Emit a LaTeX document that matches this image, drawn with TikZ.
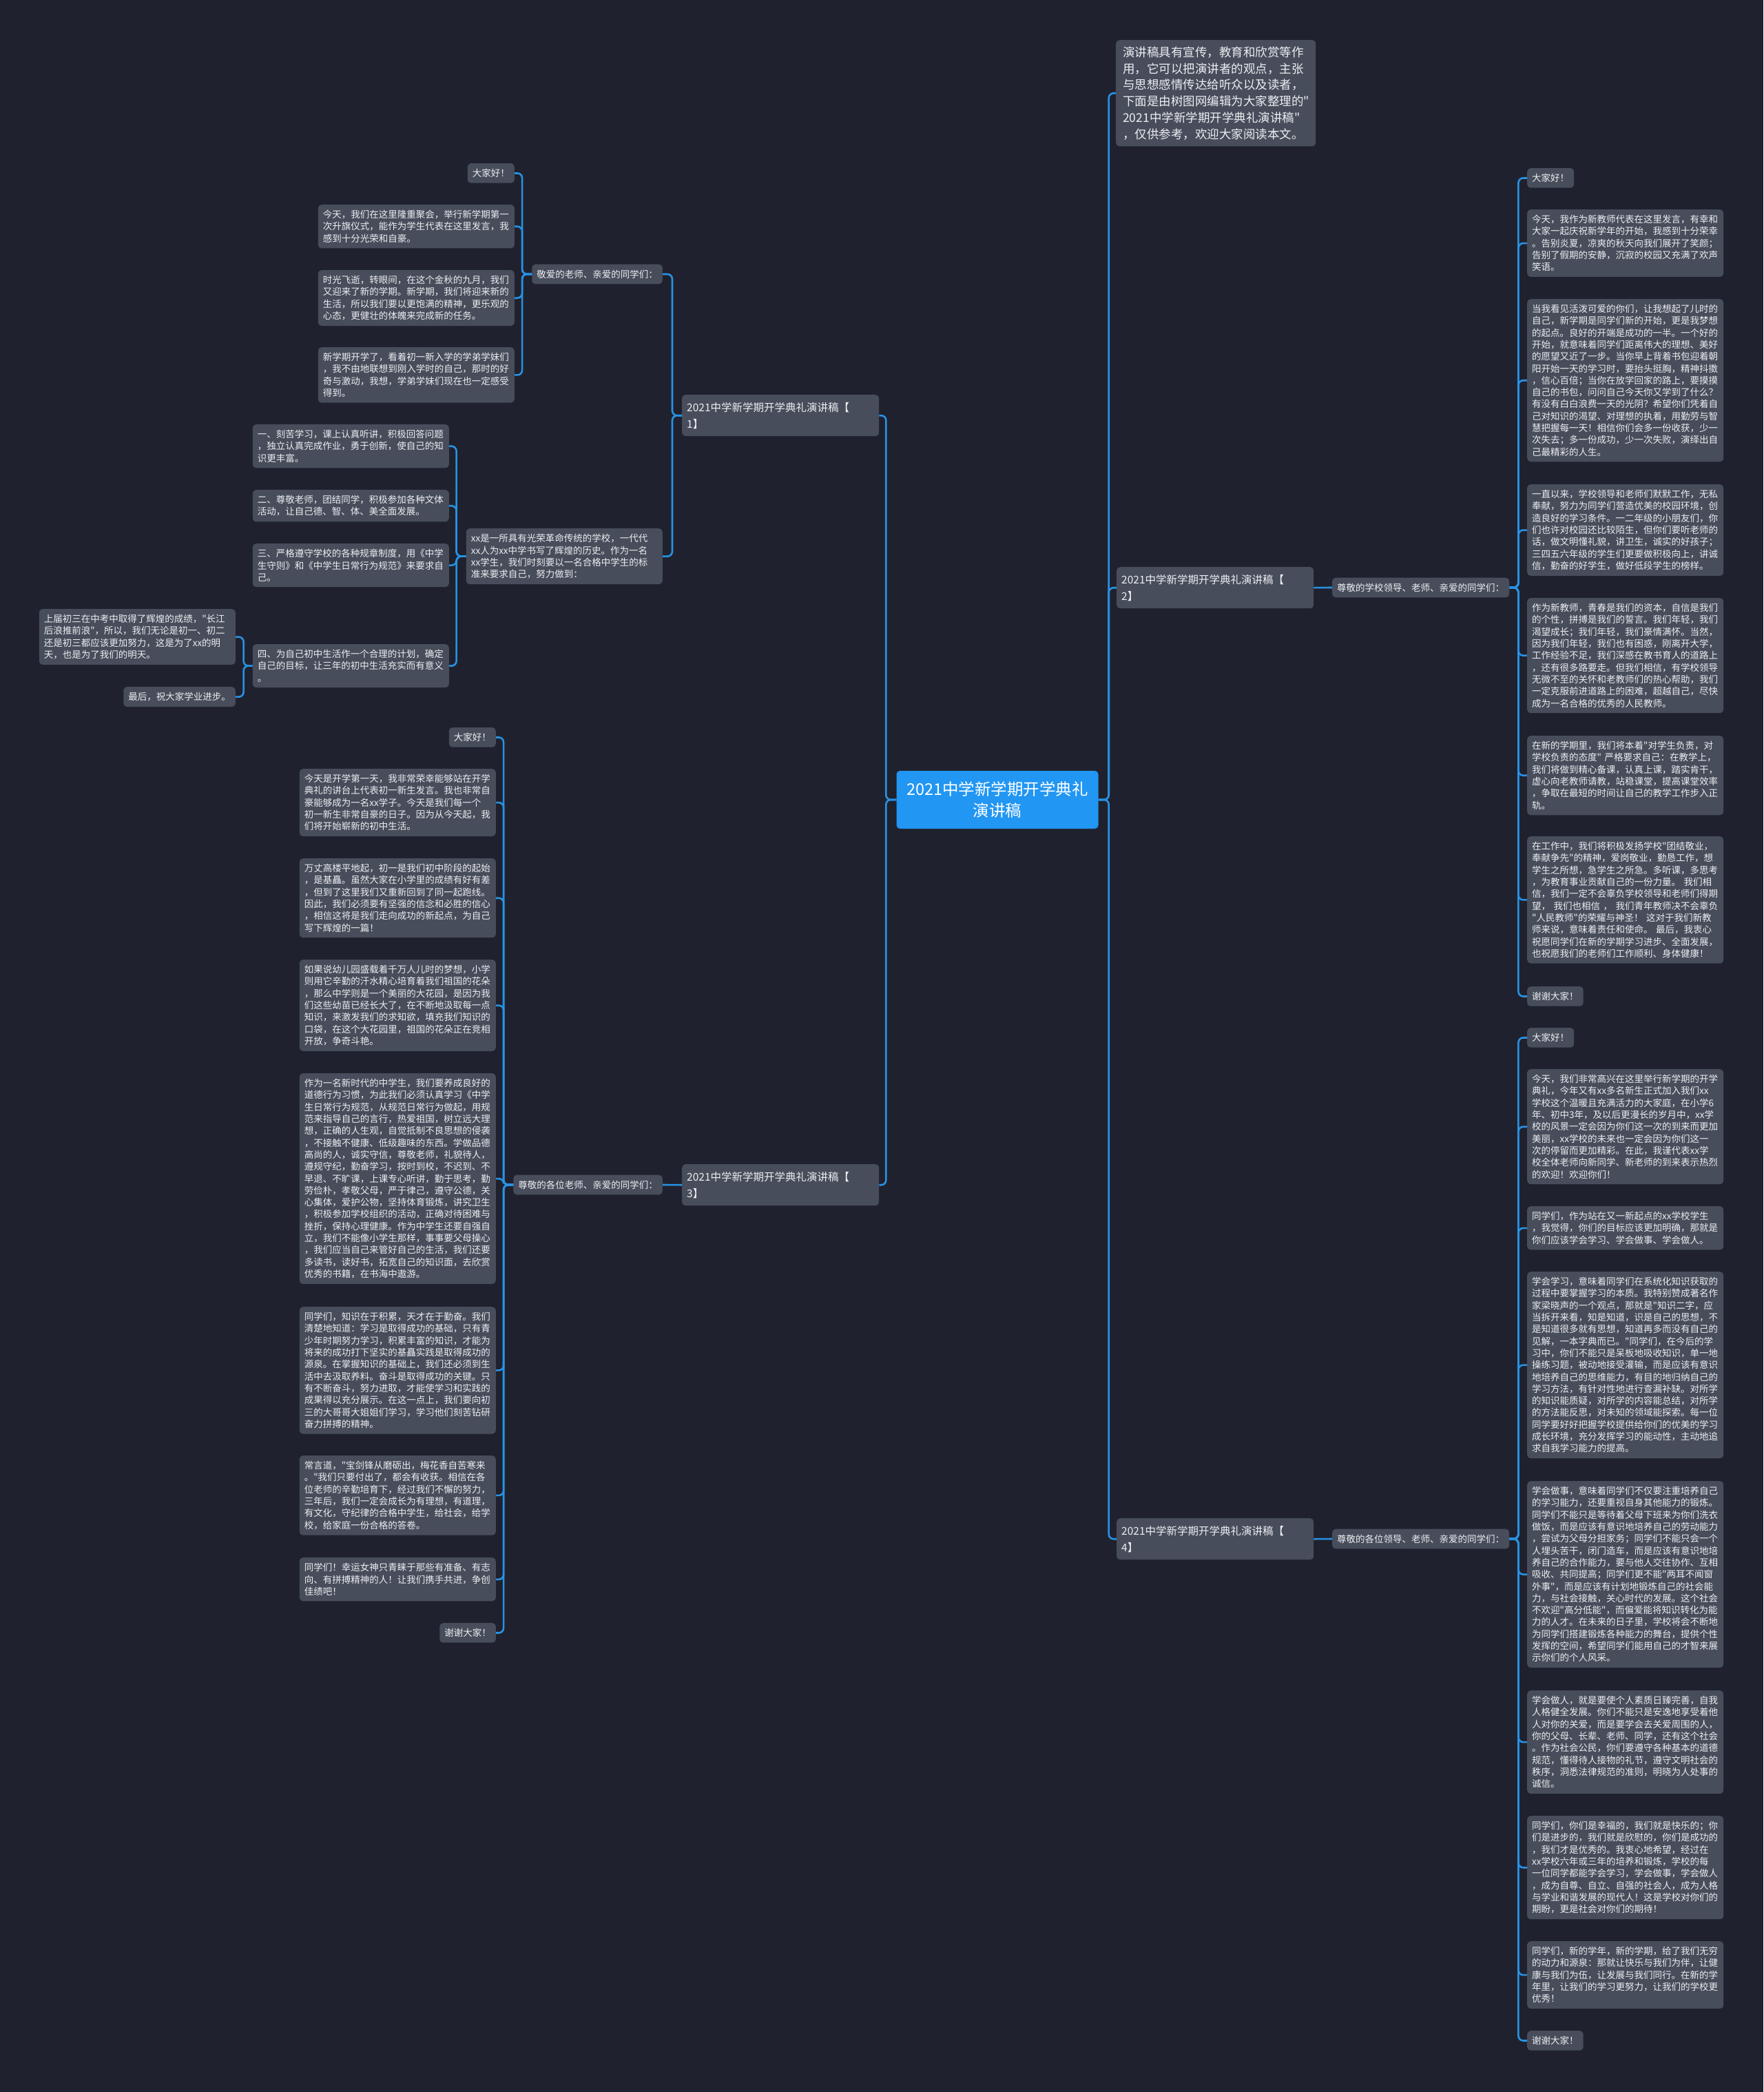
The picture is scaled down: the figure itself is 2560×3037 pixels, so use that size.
\documentclass[tikz,border=0pt]{standalone}
\usepackage{fontspec}
\setmainfont{Noto Sans CJK SC}[Ligatures=TeXOff]
\definecolor{fondoMapa}{RGB}{31,34,46}
\definecolor{nodoGris}{RGB}{72,77,91}
\definecolor{lineaAzul}{RGB}{40,146,228}
\definecolor{raizAzul}{RGB}{33,150,243}
\definecolor{textoClaro}{RGB}{236,238,242}

\begin{document}
\begin{tikzpicture}[x=1pt, y=-1pt,
    hoja/.style={fill=nodoGris, rounded corners=5pt, text=textoClaro, align=left,
      font=\fontsize{13.5}{17.3}\selectfont, inner xsep=7pt, inner ysep=8pt},
    hojaLarga/.style={hoja, text width=271pt},
    rama/.style={fill=nodoGris, rounded corners=5pt, text=textoClaro, align=left,
      font=\fontsize{15.5}{24}\selectfont, text width=272pt, inner xsep=7pt,
      minimum height=60pt, anchor=north west},
    raiz/.style={fill=raizAzul, rounded corners=5pt, text=white, align=center,
      font=\fontsize{23.5}{31}\selectfont, minimum width=293pt, minimum height=84pt},
    enlace/.style={draw=lineaAzul, line width=2.6pt, rounded corners=7pt}]

  % 1. FONDO
  \fill[fondoMapa] (0,0) rectangle (2560,3037);

  % 2. RAIZ, INTRODUCCION Y RAMAS
  \node[raiz] (raiz) at (1448,1161) {2021中学新学期开学典礼\\演讲稿};
  \node[hoja, anchor=north west, text width=270pt, inner xsep=10pt, inner ysep=9.5pt,
    font=\fontsize{17.5}{23.7}\selectfont] (intro) at (1620,58)
    {演讲稿具有宣传，教育和欣赏等作\\用，它可以把演讲者的观点，主张\\与思想感情传达给听众以及读者，\\下面是由树图网编辑为大家整理的"\\2021中学新学期开学典礼演讲稿"\\，仅供参考，欢迎大家阅读本文。};
  \node[rama] (r1) at (990,573) {2021中学新学期开学典礼演讲稿【\\1】};
  \node[rama] (r2) at (1621,823) {2021中学新学期开学典礼演讲稿【\\2】};
  \node[rama] (r3) at (990,1690) {2021中学新学期开学典礼演讲稿【\\3】};
  \node[rama] (r4) at (1621,2204) {2021中学新学期开学典礼演讲稿【\\4】};

  % 3. RAMA 1
  \node[hoja, anchor=east] (r1s) at (962,398) {敬爱的老师、亲爱的同学们：};
  \node[hoja, anchor=north east] (r1sa) at (747,237) {大家好！};
  \node[hojaLarga, anchor=north east] (r1sb) at (747,297)
    {今天，我们在这里隆重聚会，举行新学期第一\\次升旗仪式，能作为学生代表在这里发言，我\\感到十分光荣和自豪。};
  \node[hojaLarga, anchor=north east] (r1sc) at (747,392)
    {时光飞逝，转眼间，在这个金秋的九月，我们\\又迎来了新的学期。新学期，我们将迎来新的\\生活，所以我们要以更饱满的精神，更乐观的\\心态，更健壮的体魄来完成新的任务。};
  \node[hojaLarga, anchor=north east] (r1sd) at (747,504)
    {新学期开学了，看着初一新入学的学弟学妹们\\，我不由地联想到刚入学时的自己，那时的好\\奇与激动，我想，学弟学妹们现在也一定感受\\得到。};

  \node[hojaLarga, anchor=north east] (r1x) at (962,767)
    {xx是一所具有光荣革命传统的学校，一代代\\xx人为xx中学书写了辉煌的历史。作为一名\\xx学生，我们时刻要以一名合格中学生的标\\准来要求自己，努力做到：};
  \node[hojaLarga, anchor=north east] (r1xa) at (652,616)
    {一、刻苦学习，课上认真听讲，积极回答问题\\，独立认真完成作业，勇于创新，使自己的知\\识更丰富。};
  \node[hojaLarga, anchor=north east] (r1xb) at (652,711)
    {二、尊敬老师，团结同学，积极参加各种文体\\活动，让自己德、智、体、美全面发展。};
  \node[hojaLarga, anchor=north east] (r1xc) at (652,789)
    {三、严格遵守学校的各种规章制度，用《中学\\生守则》和《中学生日常行为规范》来要求自\\己。};
  \node[hojaLarga, anchor=north east] (r1xd) at (652,935)
    {四、为自己初中生活作一个合理的计划，确定\\自己的目标，让三年的初中生活充实而有意义\\。};
  \node[hojaLarga, anchor=north east] (r1xd1) at (342,884)
    {上届初三在中考中取得了辉煌的成绩，"长江\\后浪推前浪"，所以，我们无论是初一、初二\\还是初三都应该更加努力，这是为了xx的明\\天，也是为了我们的明天。};
  \node[hoja, anchor=north east] (r1xd2) at (342,997) {最后，祝大家学业进步。};

  % 4. RAMA 3
  \node[hoja, anchor=east] (r3s) at (962,1720) {尊敬的各位老师、亲爱的同学们：};
  \node[hoja, anchor=north east] (r3a) at (720,1056) {大家好！};
  \node[hojaLarga, anchor=north east] (r3b) at (720,1116)
    {今天是开学第一天，我非常荣幸能够站在开学\\典礼的讲台上代表初一新生发言。我也非常自\\豪能够成为一名xx学子。今天是我们每一个\\初一新生非常自豪的日子。因为从今天起，我\\们将开始崭新的初中生活。};
  \node[hojaLarga, anchor=north east] (r3c) at (720,1246)
    {万丈高楼平地起，初一是我们初中阶段的起始\\，是基矗。虽然大家在小学里的成绩有好有差\\，但到了这里我们又重新回到了同一起跑线。\\因此，我们必须要有坚强的信念和必胜的信心\\，相信这将是我们走向成功的新起点，为自己\\写下辉煌的一篇！};
  \node[hojaLarga, anchor=north east] (r3d) at (720,1393)
    {如果说幼儿园盛载着千万人儿时的梦想，小学\\则用它辛勤的汗水精心培育着我们祖国的花朵\\，那么中学则是一个美丽的大花园，是因为我\\们这些幼苗已经长大了，在不断地汲取每一点\\知识，来激发我们的求知欲，填充我们知识的\\口袋，在这个大花园里，祖国的花朵正在竞相\\开放，争奇斗艳。};
  \node[hojaLarga, anchor=north east] (r3e) at (720,1558)
    {作为一名新时代的中学生，我们要养成良好的\\道德行为习惯，为此我们必须认真学习《中学\\生日常行为规范，从规范日常行为做起，用规\\范来指导自己的言行，热爱祖国，树立远大理\\想，正确的人生观，自觉抵制不良思想的侵袭\\，不接触不健康、低级趣味的东西。学做品德\\高尚的人，诚实守信，尊敬老师，礼貌待人，\\遵规守纪，勤奋学习，按时到校，不迟到、不\\早退、不旷课，上课专心听讲，勤于思考，勤\\劳俭朴，孝敬父母，严于律己，遵守公德，关\\心集体，爱护公物，坚持体育锻炼，讲究卫生\\，积极参加学校组织的活动，正确对待困难与\\挫折，保持心理健康。作为中学生还要自强自\\立，我们不能像小学生那样，事事要父母操心\\，我们应当自己来管好自己的生活，我们还要\\多读书，读好书，拓宽自己的知识面，去欣赏\\优秀的书籍，在书海中遨游。};
  \node[hojaLarga, anchor=north east] (r3f) at (720,1897)
    {同学们，知识在于积累，天才在于勤奋。我们\\清楚地知道：学习是取得成功的基础，只有青\\少年时期努力学习，积累丰富的知识，才能为\\将来的成功打下坚实的基矗实践是取得成功的\\源泉。在掌握知识的基础上，我们还必须到生\\活中去汲取养料。奋斗是取得成功的关键。只\\有不断奋斗，努力进取，才能使学习和实践的\\成果得以充分展示。在这一点上，我们要向初\\三的大哥哥大姐姐们学习，学习他们刻苦钻研\\奋力拼搏的精神。};
  \node[hojaLarga, anchor=north east] (r3g) at (720,2113)
    {常言道，"宝剑锋从磨砺出，梅花香自苦寒来\\。"我们只要付出了，都会有收获。相信在各\\位老师的辛勤培育下，经过我们不懈的努力，\\三年后，我们一定会成长为有理想，有道理，\\有文化，守纪律的合格中学生，给社会，给学\\校，给家庭一份合格的答卷。};
  \node[hojaLarga, anchor=north east] (r3h) at (720,2261)
    {同学们！幸运女神只青睐于那些有准备、有志\\向、有拼搏精神的人！让我们携手共进，争创\\佳绩吧！};
  \node[hoja, anchor=north east] (r3i) at (720,2356) {谢谢大家！};

  % 5. RAMA 2
  \node[hoja, anchor=west] (r2s) at (1934,853) {尊敬的学校领导、老师、亲爱的同学们：};
  \node[hoja, anchor=north west] (r2a) at (2217,244) {大家好！};
  \node[hojaLarga, anchor=north west] (r2b) at (2217,304)
    {今天，我作为新教师代表在这里发言，有幸和\\大家一起庆祝新学年的开始，我感到十分荣幸\\。告别炎夏，凉爽的秋天向我们展开了笑颜；\\告别了假期的安静，沉寂的校园又充满了欢声\\笑语。};
  \node[hojaLarga, anchor=north west] (r2c) at (2217,434)
    {当我看见活泼可爱的你们，让我想起了儿时的\\自己，新学期是同学们新的开始，更是我梦想\\的起点。良好的开端是成功的一半。一个好的\\开始，就意味着同学们距离伟大的理想、美好\\的愿望又近了一步。当你早上背着书包迎着朝\\阳开始一天的学习时，要抬头挺胸，精神抖擞\\，信心百倍；当你在放学回家的路上，要摸摸\\自己的书包，问问自己今天你又学到了什么？\\有没有白白浪费一天的光阴？希望你们凭着自\\己对知识的渴望、对理想的执着，用勤劳与智\\慧把握每一天！相信你们会多一份收获，少一\\次失去；多一份成功，少一次失败，演绎出自\\己最精彩的人生。};
  \node[hojaLarga, anchor=north west] (r2d) at (2217,703)
    {一直以来，学校领导和老师们默默工作，无私\\奉献，努力为同学们营造优美的校园环境，创\\造良好的学习条件。一二年级的小朋友们，你\\们也许对校园还比较陌生，但你们要听老师的\\话，做文明懂礼貌，讲卫生，诚实的好孩子；\\三四五六年级的学生们更要做积极向上，讲诚\\信，勤奋的好学生，做好低段学生的榜样。};
  \node[hojaLarga, anchor=north west] (r2e) at (2217,868)
    {作为新教师，青春是我们的资本，自信是我们\\的个性，拼搏是我们的誓言。我们年轻，我们\\渴望成长；我们年轻，我们豪情满怀。当然，\\因为我们年轻，我们也有困惑，刚离开大学，\\工作经验不足，我们深感在教书育人的道路上\\，还有很多路要走。但我们相信，有学校领导\\无微不至的关怀和老教师们的热心帮助，我们\\一定克服前进道路上的困难，超越自己，尽快\\成为一名合格的优秀的人民教师。};
  \node[hojaLarga, anchor=north west] (r2f) at (2217,1068)
    {在新的学期里，我们将本着"对学生负责，对\\学校负责的态度"~严格要求自己：在教学上，\\我们将做到精心备课，认真上课，踏实肯干，\\虚心向老教师请教，站稳课堂，提高课堂效率\\，争取在最短的时间让自己的教学工作步入正\\轨。};
  \node[hojaLarga, anchor=north west] (r2g) at (2217,1214)
    {在工作中，我们将积极发扬学校"团结敬业，\\奉献争先"的精神，爱岗敬业，勤恳工作，想\\学生之所想，急学生之所急。多听课，多思考\\，为教育事业贡献自己的一份力量。~我们相\\信，我们一定不会辜负学校领导和老师们得期\\望，~我们也相信~，~我们青年教师决不会辜负\\"人民教师"的荣耀与神圣！~这对于我们新教\\师来说，意味着责任和使命。~最后，我衷心\\祝愿同学们在新的学期学习进步、全面发展，\\也祝愿我们的老师们工作顺利、身体健康！};
  \node[hoja, anchor=north west] (r2h) at (2217,1432) {谢谢大家！};

  % 6. RAMA 4
  \node[hoja, anchor=west] (r4s) at (1934,2234) {尊敬的各位领导、老师、亲爱的同学们：};
  \node[hoja, anchor=north west] (r4a) at (2217,1492) {大家好！};
  \node[hojaLarga, anchor=north west] (r4b) at (2217,1552)
    {今天，我们非常高兴在这里举行新学期的开学\\典礼，今年又有xx多名新生正式加入我们xx\\学校这个温暖且充满活力的大家庭，在小学6\\年、初中3年，及以后更漫长的岁月中，xx学\\校的风景一定会因为你们这一次的到来而更加\\美丽，xx学校的未来也一定会因为你们这一\\次的停留而更加精彩。在此，我谨代表xx学\\校全体老师向新同学、新老师的到来表示热烈\\的欢迎！欢迎你们！};
  \node[hojaLarga, anchor=north west] (r4c) at (2217,1751)
    {同学们，作为站在又一新起点的xx学校学生\\，我觉得，你们的目标应该更加明确，那就是\\你们应该学会学习、学会做事、学会做人。};
  \node[hojaLarga, anchor=north west] (r4d) at (2217,1846)
    {学会学习，意味着同学们在系统化知识获取的\\过程中要掌握学习的本质。我特别赞成著名作\\家梁晓声的一个观点，那就是"知识二字，应\\当拆开来看，知是知道，识是自己的思想，不\\是知道很多就有思想，知道再多而没有自己的\\见解，一本字典而已。"同学们，在今后的学\\习中，你们不能只是呆板地吸收知识，单一地\\操练习题，被动地接受灌输，而是应该有意识\\地培养自己的思维能力，有目的地归纳自己的\\学习方法，有针对性地进行查漏补缺。对所学\\的知识能质疑，对所学的内容能总结，对所学\\的方法能反思，对未知的领域能探索。每一位\\同学要好好把握学校提供给你们的优美的学习\\成长环境，充分发挥学习的能动性，主动地追\\求自我学习能力的提高。};
  \node[hojaLarga, anchor=north west] (r4e) at (2217,2150)
    {学会做事，意味着同学们不仅要注重培养自己\\的学习能力，还要重视自身其他能力的锻炼。\\同学们不能只是等待着父母下班来为你们洗衣\\做饭，而是应该有意识地培养自己的劳动能力\\，尝试为父母分担家务；同学们不能只会一个\\人埋头苦干，闭门造车，而是应该有意识地培\\养自己的合作能力，要与他人交往协作、互相\\吸收、共同提高；同学们更不能"两耳不闻窗\\外事"，而是应该有计划地锻炼自己的社会能\\力，与社会接触，关心时代的发展。这个社会\\不欢迎"高分低能"，而偏爱能将知识转化为能\\力的人才。在未来的日子里，学校将会不断地\\为同学们搭建锻炼各种能力的舞台，提供个性\\发挥的空间，希望同学们能用自己的才智来展\\示你们的个人风采。};
  \node[hojaLarga, anchor=north west] (r4f) at (2217,2454)
    {学会做人，就是要使个人素质日臻完善，自我\\人格健全发展。你们不能只是安逸地享受着他\\人对你的关爱，而是要学会去关爱周围的人，\\你的父母、长辈、老师、同学，还有这个社会\\。作为社会公民，你们要遵守各种基本的道德\\规范，懂得待人接物的礼节，遵守文明社会的\\秩序，洞悉法律规范的准则，明晓为人处事的\\诚信。};
  \node[hojaLarga, anchor=north west] (r4g) at (2217,2636)
    {同学们，你们是幸福的，我们就是快乐的；你\\们是进步的，我们就是欣慰的，你们是成功的\\，我们才是优秀的。我衷心地希望，经过在\\xx学校六年或三年的培养和锻炼，学校的每\\一位同学都能学会学习，学会做事，学会做人\\，成为自尊、自立、自强的社会人，成为人格\\与学业和谐发展的现代人！这是学校对你们的\\期盼，更是社会对你们的期待！};
  \node[hojaLarga, anchor=north west] (r4h) at (2217,2818)
    {同学们，新的学年，新的学期，给了我们无穷\\的动力和源泉：那就让快乐与我们为伴，让健\\康与我们为伍，让发展与我们同行。在新的学\\年里，让我们的学习更努力，让我们的学校更\\优秀！};
  \node[hoja, anchor=north west] (r4i) at (2217,2948) {谢谢大家！};

  % 7. CONEXIONES
  % raiz
  \draw[enlace] (raiz.west) -- ++(-15,0) |- (r1.east);
  \draw[enlace] (raiz.west) -- ++(-15,0) |- (r3.east);
  \draw[enlace] (raiz.east) -- ++(15,0) |- (intro.west);
  \draw[enlace] (raiz.east) -- ++(15,0) |- (r2.west);
  \draw[enlace] (raiz.east) -- ++(15,0) |- (r4.west);
  % rama 1
  \draw[enlace] (r1.west) -- ++(-14,0) |- (r1s.east);
  \draw[enlace] (r1.west) -- ++(-14,0) |- (r1x.east);
  \draw[enlace] (r1s.west) -- ++(-14,0) |- (r1sa.east);
  \draw[enlace] (r1s.west) -- ++(-14,0) |- (r1sb.east);
  \draw[enlace] (r1s.west) -- ++(-14,0) |- (r1sc.east);
  \draw[enlace] (r1s.west) -- ++(-14,0) |- (r1sd.east);
  \draw[enlace] (r1x.west) -- ++(-14,0) |- (r1xa.east);
  \draw[enlace] (r1x.west) -- ++(-14,0) |- (r1xb.east);
  \draw[enlace] (r1x.west) -- ++(-14,0) |- (r1xc.east);
  \draw[enlace] (r1x.west) -- ++(-14,0) |- (r1xd.east);
  \draw[enlace] (r1xd.west) -- ++(-13,0) |- (r1xd1.east);
  \draw[enlace] (r1xd.west) -- ++(-13,0) |- (r1xd2.east);
  % rama 3
  \draw[enlace] (r3.west) -- (r3s.east);
  \draw[enlace] (r3s.west) -- ++(-14,0) |- (r3a.east);
  \draw[enlace] (r3s.west) -- ++(-14,0) |- (r3b.east);
  \draw[enlace] (r3s.west) -- ++(-14,0) |- (r3c.east);
  \draw[enlace] (r3s.west) -- ++(-14,0) |- (r3d.east);
  \draw[enlace] (r3s.west) -- ++(-14,0) |- (r3e.east);
  \draw[enlace] (r3s.west) -- ++(-14,0) |- (r3f.east);
  \draw[enlace] (r3s.west) -- ++(-14,0) |- (r3g.east);
  \draw[enlace] (r3s.west) -- ++(-14,0) |- (r3h.east);
  \draw[enlace] (r3s.west) -- ++(-14,0) |- (r3i.east);
  % rama 2
  \draw[enlace] (r2.east) -- (r2s.west);
  \draw[enlace] (r2s.east) -- ++(13,0) |- (r2a.west);
  \draw[enlace] (r2s.east) -- ++(13,0) |- (r2b.west);
  \draw[enlace] (r2s.east) -- ++(13,0) |- (r2c.west);
  \draw[enlace] (r2s.east) -- ++(13,0) |- (r2d.west);
  \draw[enlace] (r2s.east) -- ++(13,0) |- (r2e.west);
  \draw[enlace] (r2s.east) -- ++(13,0) |- (r2f.west);
  \draw[enlace] (r2s.east) -- ++(13,0) |- (r2g.west);
  \draw[enlace] (r2s.east) -- ++(13,0) |- (r2h.west);
  % rama 4
  \draw[enlace] (r4.east) -- (r4s.west);
  \draw[enlace] (r4s.east) -- ++(13,0) |- (r4a.west);
  \draw[enlace] (r4s.east) -- ++(13,0) |- (r4b.west);
  \draw[enlace] (r4s.east) -- ++(13,0) |- (r4c.west);
  \draw[enlace] (r4s.east) -- ++(13,0) |- (r4d.west);
  \draw[enlace] (r4s.east) -- ++(13,0) |- (r4e.west);
  \draw[enlace] (r4s.east) -- ++(13,0) |- (r4f.west);
  \draw[enlace] (r4s.east) -- ++(13,0) |- (r4g.west);
  \draw[enlace] (r4s.east) -- ++(13,0) |- (r4h.west);
  \draw[enlace] (r4s.east) -- ++(13,0) |- (r4i.west);
\end{tikzpicture}
\end{document}
